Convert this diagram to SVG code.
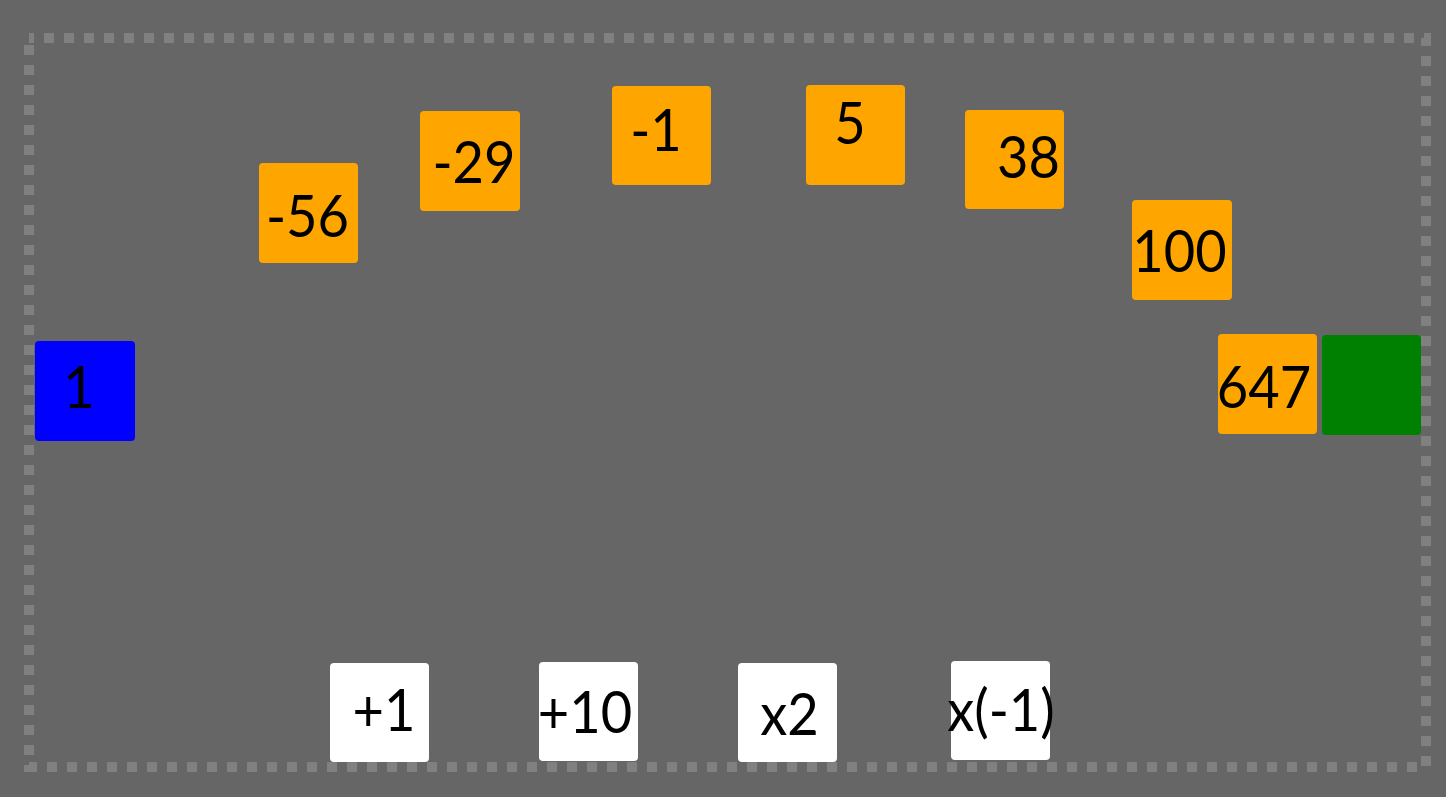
<svg xmlns="http://www.w3.org/2000/svg" width="1446" height="797" viewBox="0 0 1446 797">
<style>
.box{stroke:none}
.o{fill:#FFA500}
.w{fill:#FFFFFF}
.t{font-family:Lato,"Open Sans",sans-serif;font-size:59px;fill:#000;text-anchor:middle}
</style>
<rect x="0" y="0" width="1446" height="797" fill="#666666"/>
<rect id="frame" x="29" y="38" width="1397" height="729" fill="none" stroke="#808080" stroke-width="10" stroke-dasharray="10 10" stroke-dashoffset="5"/>
<g id="connectors"></g>
<g id="start"><rect class="box" x="35" y="341" width="100" height="100" rx="4" fill="#0000FF"/><text class="t" transform="translate(79 0) scale(0.92 1)" x="0" y="408">1</text></g>
<g id="n-56"><rect class="box o" x="259" y="163" width="99" height="100" rx="4"/><text class="t" transform="translate(307.5 0) scale(0.92 1)" x="0" y="237">-56</text></g>
<g id="n-29"><rect class="box o" x="420" y="111" width="100" height="100" rx="4"/><text class="t" transform="translate(474 0) scale(0.92 1)" x="0" y="183">-29</text></g>
<g id="n-1"><rect class="box o" x="612" y="86" width="99" height="99" rx="4"/><text class="t" transform="translate(656 0) scale(0.92 1)" x="0" y="151">-1</text></g>
<g id="n5"><rect class="box o" x="806" y="85" width="99" height="100" rx="4"/><text class="t" transform="translate(850 0) scale(0.92 1)" x="0" y="144">5</text></g>
<g id="n38"><rect class="box o" x="965" y="110" width="99" height="99" rx="4"/><text class="t" transform="translate(1028.5 0) scale(0.92 1)" x="0" y="178">38</text></g>
<g id="n100"><rect class="box o" x="1132" y="200" width="100" height="100" rx="4"/><text class="t" transform="translate(1179.5 0) scale(0.92 1)" x="0" y="272">100</text></g>
<g id="n647"><rect class="box o" x="1218" y="334" width="99" height="100" rx="4"/><text class="t" transform="translate(1264 0) scale(0.92 1)" x="0" y="408">647</text></g>
<g id="goal"><rect class="box" x="1322" y="335" width="99" height="100" rx="4" fill="#008000"/></g>
<g id="op-plus1"><rect class="box w" x="330" y="663" width="99" height="99" rx="4"/><text class="t" transform="translate(384 0) scale(0.92 1)" x="0" y="731">+1</text></g>
<g id="op-plus10"><rect class="box w" x="539" y="662" width="99" height="99" rx="4"/><text class="t" transform="translate(585 0) scale(0.92 1)" x="0" y="733">+10</text></g>
<g id="op-x2"><rect class="box w" x="738" y="663" width="99" height="99" rx="4"/><text class="t" transform="translate(789.5 0) scale(0.92 1)" x="0" y="735">x2</text></g>
<g id="op-neg"><rect class="box w" x="951" y="661" width="99" height="99" rx="4"/><text class="t" transform="translate(1001 0) scale(0.92 1)" x="0" y="731">x(-1)</text></g>
</svg>
